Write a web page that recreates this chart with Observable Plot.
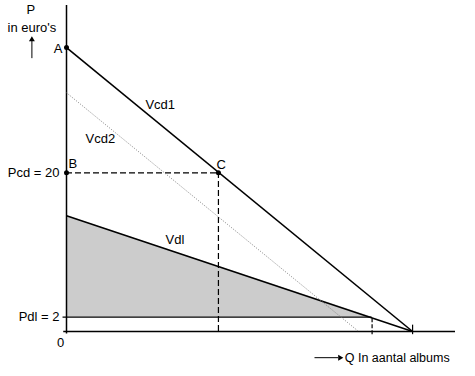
<!DOCTYPE html>
<html>
<head>
<meta charset="utf-8">
<script src="https://cdn.jsdelivr.net/npm/d3@7"></script>
<script src="https://cdn.jsdelivr.net/npm/@observablehq/plot@0.6"></script>
<style>
  html, body { margin: 0; padding: 0; background: #fff; }
  #chart svg { display: block; }
</style>
</head>
<body>
<div id="chart"></div>
<script>
// Demand curves: name, price intercept (P at Q = 0), quantity intercept (Q at P = 0)
const curveNames = ["Vcd1", "Vcd2", "Vdl"];
const curveP0 = [35.8, 30.1, 14.6];
const curveQ0 = [100, 84.4, 100];
// Label anchor points for the curve names (Q, P)
const curveLabelQ = [22.8, 5.5, 28.6];
const curveLabelP = [28.6, 24.3, 11.5];

// Price levels on the P axis
const priceLevels = [20, 1.8];
const priceLabels = ["Pcd = 20", "Pdl = 2"];

// Points
const pointNames = ["A", "B", "C"];
const pointQ = [0, 0, 43.9];
const pointP = [35.8, 20, 20];

// Quantity where Vdl meets Pdl
const qDl = 88.3;

const curves = curveNames.map((name, i) => ({name, p0: curveP0[i], q0: curveQ0[i], lq: curveLabelQ[i], lp: curveLabelP[i]}));
const points = pointNames.map((name, i) => ({name, q: pointQ[i], p: pointP[i]}));
const shade = [{q: 0, p: curveP0[2]}, {q: qDl, p: priceLevels[1]}];

const font = "'Liberation Sans', Arial, Helvetica, sans-serif";

const chart = Plot.plot({
  width: 475,
  height: 376,
  marginLeft: 66,
  marginRight: 20,
  marginTop: 5,
  marginBottom: 45,
  x: {domain: [0, 112.4], axis: null},
  y: {domain: [0, 41.1], axis: null},
  style: {fontFamily: font, fontSize: "12px", background: "#fff", color: "#000"},
  marks: [
    // shaded area under Vdl above Pdl
    Plot.areaY(shade, {x: "q", y1: priceLevels[1], y2: "p", fill: "#cccccc"}),
    // axes
    Plot.ruleY([0], {x1: -0.8, x2: 112.4, stroke: "#000", strokeWidth: 1.5}),
    Plot.ruleX([0], {y1: -0.3, y2: 41.1, stroke: "#000", strokeWidth: 1.5}),
    // Pdl level line and tick
    Plot.ruleY([priceLevels[1]], {x1: -1, x2: qDl, stroke: "#000", strokeWidth: 1.3}),
    // dashed lines to C
    Plot.ruleY([priceLevels[0]], {x1: 0, x2: pointQ[2], stroke: "#000", strokeWidth: 1.2, strokeDasharray: "6,3"}),
    Plot.ruleX([pointQ[2]], {y1: 0, y2: priceLevels[0], stroke: "#000", strokeWidth: 1.2, strokeDasharray: "6,3"}),
    // dashed drop at qDl and tick at Q intercept
    Plot.ruleX([qDl], {y1: -0.4, y2: priceLevels[1], stroke: "#000", strokeWidth: 1.2, strokeDasharray: "4,2"}),
    Plot.ruleX([curveQ0[0]], {y1: -0.4, y2: 0.8, stroke: "#000", strokeWidth: 1.2}),
    // demand curves
    Plot.link(curves.filter(d => d.name !== "Vcd2"), {x1: () => 0, y1: "p0", x2: "q0", y2: () => 0, stroke: "#000", strokeWidth: 1.6}),
    Plot.link(curves.filter(d => d.name === "Vcd2"), {x1: () => 0, y1: "p0", x2: "q0", y2: () => 0, stroke: "#777", strokeWidth: 0.9, strokeDasharray: "1,1.5"}),
    // points
    Plot.dot(points, {x: "q", y: "p", r: 2.5, fill: "#000", stroke: null}),
    // point labels
    Plot.text(points.filter(d => d.name === "A"), {x: "q", y: "p", text: "name", textAnchor: "end", dx: -4, dy: 1, fontSize: 13}),
    Plot.text(points.filter(d => d.name === "B"), {x: "q", y: "p", text: "name", textAnchor: "start", dx: 2, dy: -9, fontSize: 13}),
    Plot.text(points.filter(d => d.name === "C"), {x: "q", y: "p", text: "name", textAnchor: "start", dx: -2, dy: -8, fontSize: 13}),
    // curve labels
    Plot.text(curves, {x: "lq", y: "lp", text: "name", textAnchor: "start", fontSize: 13}),
    // price labels
    Plot.text(priceLevels.map((p, i) => ({p, t: priceLabels[i]})), {x: () => 0, y: "p", text: "t", textAnchor: "end", dx: -7, fontSize: 13}),
    // origin label
    Plot.text(["0"], {x: () => 0, y: () => 0, text: d => d, dx: -6, dy: 11, fontSize: 13}),
    // axis titles
    Plot.text(["P"], {x: () => -10.3, y: () => 40.6, text: d => d, fontSize: 13}),
    Plot.text(["in euro's"], {x: () => -10, y: () => 38.3, text: d => d, fontSize: 13}),
    // up arrow for P
    Plot.ruleX([0], {x: () => -10, y1: () => 34.4, y2: () => 36.6, stroke: "#000", strokeWidth: 1}),
    Plot.dot([0], {x: () => -10, y: () => 36.8, symbol: "triangle", r: 2.2, fill: "#000", stroke: null}),
    // right arrow for Q
    Plot.ruleY([0], {y: () => -3.3, x1: () => 71.8, x2: () => 78.6, stroke: "#000", strokeWidth: 1}),
    Plot.dot([0], {x: () => 79.0, y: () => -3.3, symbol: "triangle", rotate: 90, r: 2.2, fill: "#000", stroke: null}),
    Plot.text(["Q In aantal albums"], {x: () => 80.4, y: () => -3.3, text: d => d, textAnchor: "start", fontSize: 12.5})
  ]
});

document.getElementById("chart").appendChild(chart);
</script>
</body>
</html>
